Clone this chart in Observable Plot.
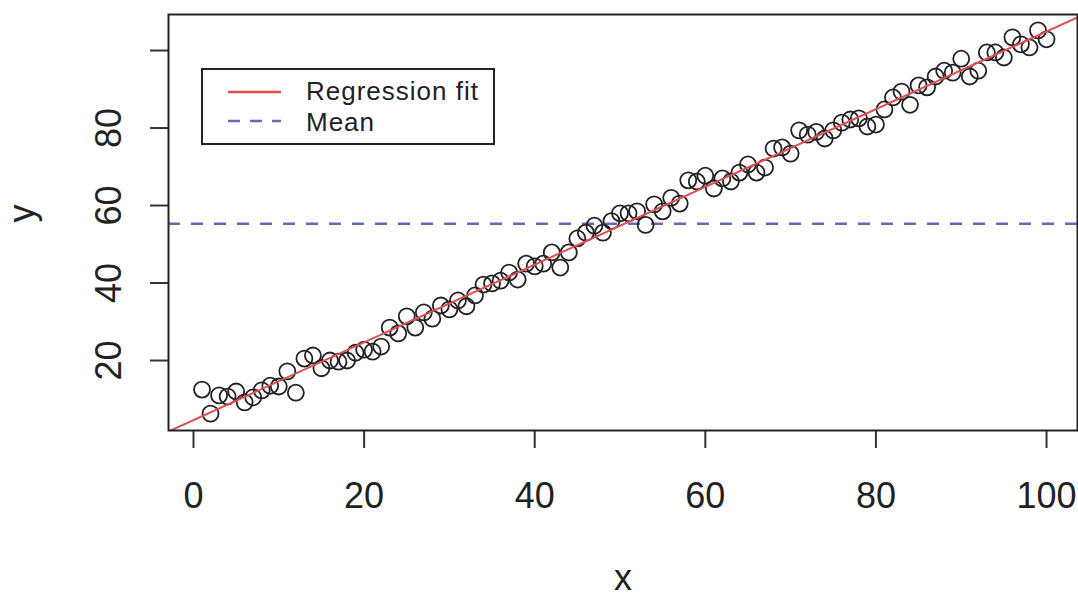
<!DOCTYPE html>
<html>
<head>
<meta charset="utf-8">
<script src="https://cdn.jsdelivr.net/npm/d3@7"></script>
<script src="https://cdn.jsdelivr.net/npm/@observablehq/plot@0.6"></script>
<style>
  html, body { margin: 0; padding: 0; background: #fff; }
  #wrap { position: relative; width: 1078px; height: 596px; font-family: "Liberation Sans", Arial, Helvetica, sans-serif; }
  #legend { position: absolute; left: 201px; top: 68px; width: 290px; height: 73px; border: 2px solid #222; background: #fff; box-sizing: content-box; }
  #legend svg { position: absolute; left: 0; top: 0; }
  #legend .lab { position: absolute; left: 103px; font-size: 26px; line-height: 30px; height: 30px; letter-spacing: 1px; color: #222; white-space: nowrap; }
</style>
</head>
<body>
<div id="wrap">
  <div id="chart"></div>
  <div id="legend">
    <svg width="290" height="73">
      <line x1="25" x2="78" y1="22" y2="22" stroke="#e05050" stroke-width="2.5"/>
      <line x1="25" x2="78" y1="51" y2="51" stroke="#6868b8" stroke-width="2.5" stroke-dasharray="12,10"/>
    </svg>
    <div class="lab" style="top:6px">Regression fit</div>
    <div class="lab" style="top:37px">Mean</div>
  </div>
</div>
<script>
const xValues = [1,2,3,4,5,6,7,8,9,10,11,12,13,14,15,16,17,18,19,20,
  21,22,23,24,25,26,27,28,29,30,31,32,33,34,35,36,37,38,39,40,
  41,42,43,44,45,46,47,48,49,50,51,52,53,54,55,56,57,58,59,60,
  61,62,63,64,65,66,67,68,69,70,71,72,73,74,75,76,77,78,79,80,
  81,82,83,84,85,86,87,88,89,90,91,92,93,94,95,96,97,98,99,100];
const yValues = [12.5,6.3,11,10.7,12,9.2,10.5,12.3,13.5,13.3,
  17.2,11.7,20.5,21.3,18,20,19.7,20,22,22.8,
  22.3,23.6,28.5,27,31.4,28.5,32.4,30.8,34.2,33.2,
  35.5,34,36.8,39.6,39.9,40.6,42.7,40.9,45,44.3,
  45,47.9,44,47.9,51.5,53,54.8,53,56,58,
  58,58.5,55,60.3,58.5,62,60.5,66.5,66.2,67.7,
  64.4,67,66.2,68.5,70.6,68.5,69.8,74.7,75,73.4,
  79.4,78.3,79,77.3,79.4,81.4,82.2,82.5,80.4,80.9,
  84.8,87.9,89.4,86,91,90.5,93.3,94.8,94.3,97.9,
  93.3,94.8,99.5,99.5,98.2,103.4,101.6,100.8,105.2,102.9];
const xTicks = [0, 20, 40, 60, 80, 100];
const yTicks = [20, 40, 60, 80, 100];
const yTickLabels = [20, 40, 60, 80];
const xLabel = "x";
const yLabel = "y";

const points = xValues.map((x, i) => ({x, y: yValues[i]}));
const mx = d3.mean(xValues), my = d3.mean(yValues);
const slope = d3.sum(points, p => (p.x - mx) * (p.y - my)) / d3.sum(points, p => (p.x - mx) ** 2);
const intercept = my - slope * mx;

const xDomain = [-2.93, 103.63];
const yDomain = [1.94, 109.3];
const fitLine = xDomain.map(x => ({x, y: intercept + slope * x}));

const font = "Liberation Sans, Arial, Helvetica, sans-serif";
const chart = Plot.plot({
  width: 1078,
  height: 596,
  marginLeft: 168,
  marginRight: 1,
  marginTop: 14,
  marginBottom: 166,
  style: {background: "#fff", fontFamily: font, color: "#222", overflow: "visible"},
  x: {domain: xDomain},
  y: {domain: yDomain},
  marks: [
    Plot.axisX({ticks: xTicks, tickSize: 18, tickPadding: 34, fontSize: 36, label: null, stroke: "#333", strokeWidth: 2}),
    Plot.axisY({ticks: yTicks, tickSize: 18, tickFormat: () => "", label: null, stroke: "#333", strokeWidth: 2}),
    Plot.text(yTickLabels, {y: d => d, text: d => String(d), frameAnchor: "left", dx: -59, rotate: -90, fontSize: 36, fill: "#222", textAnchor: "middle", lineAnchor: "middle"}),
    Plot.text([xLabel], {frameAnchor: "bottom", dy: 148, fontSize: 36, fill: "#222", lineAnchor: "middle"}),
    Plot.text([yLabel], {frameAnchor: "left", dx: -146, rotate: -90, fontSize: 36, fill: "#222", lineAnchor: "middle"}),
    Plot.ruleY([my], {stroke: "#6868b8", strokeWidth: 2.5, strokeDasharray: "12,11"}),
    Plot.dot(points, {x: "x", y: "y", r: 8, stroke: "#222", strokeWidth: 1.8, fill: "none"}),
    Plot.line(fitLine, {x: "x", y: "y", stroke: "#e05050", strokeWidth: 2, clip: true}),
    Plot.frame({stroke: "#222", strokeWidth: 2})
  ]
});
document.getElementById("chart").appendChild(chart);
</script>
</body>
</html>
